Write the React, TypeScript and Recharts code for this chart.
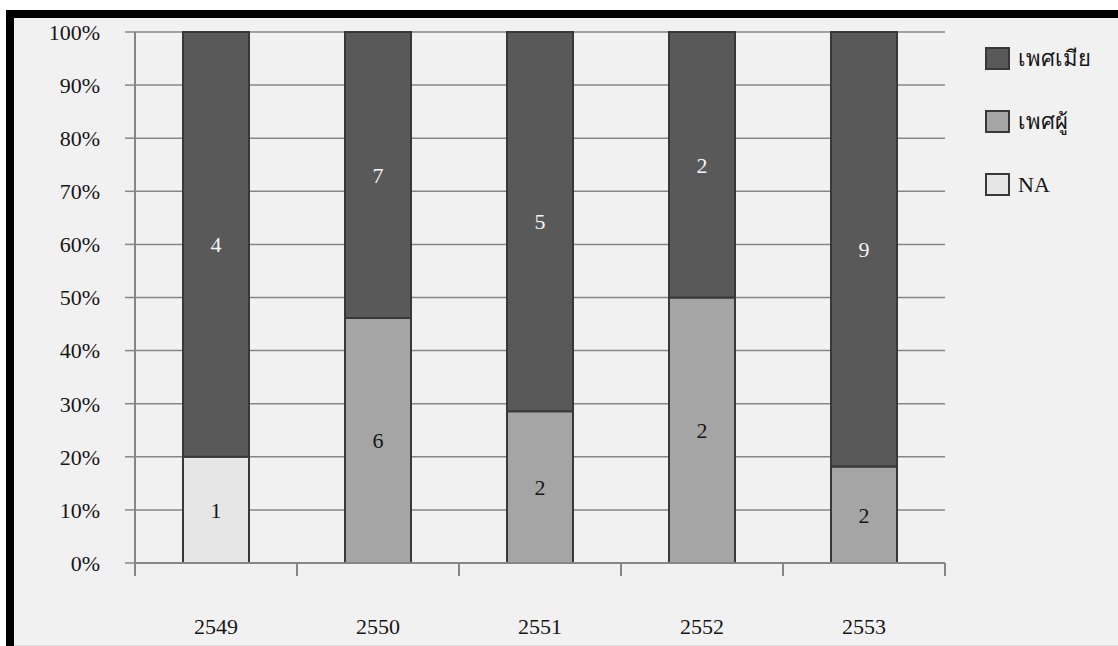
import React from "react";
import { BarChart, Bar, XAxis, YAxis, CartesianGrid, LabelList } from "recharts";

const categories = ["2549", "2550", "2551", "2552", "2553"];
const femaleCounts = [4, 7, 5, 2, 9];
const maleCounts = [0, 6, 2, 2, 2];
const naCounts = [1, 0, 0, 0, 0];
const yTicks = [0, 0.1, 0.2, 0.3, 0.4, 0.5, 0.6, 0.7, 0.8, 0.9, 1];

const seriesNames = {
  female: "เพศเมีย",
  male: "เพศผู้",
  na: "NA",
};

const W = 1118;
const H = 646;
const MARGIN = { top: 32, right: 173, bottom: 0, left: 0 };
const Y_AXIS_W = 135;
const X_AXIS_H = 83;
const BAND = (W - MARGIN.left - MARGIN.right - Y_AXIS_W) / categories.length;

const FONT = "'Liberation Serif', 'Times New Roman', serif";
const FONT_SIZE = 22;
const TEXT = "#161616";
const GRID = "#868686";
const EDGE = "#383838";
const COLORS = { female: "#595959", male: "#a5a5a5", na: "#e6e6e6" };

const data = categories.map((year, i) => ({
  year,
  female: femaleCounts[i],
  male: maleCounts[i],
  na: naCounts[i],
}));

// zero-height segments get no label
const hideZero = (v: any) => (v ? v : "");

// category label plus tick marks on the band edges
function YearTick({ x, y, payload, index }: any) {
  const half = BAND / 2;
  return (
    <g>
      <line x1={x - half} x2={x - half} y1={y} y2={y + 13} stroke={GRID} strokeWidth={2} />
      {index === categories.length - 1 && (
        <line x1={x + half} x2={x + half} y1={y} y2={y + 13} stroke={GRID} strokeWidth={2} />
      )}
      <text x={x} y={y + 71} textAnchor="middle" fill={TEXT} fontSize={FONT_SIZE} fontFamily={FONT}>
        {payload.value}
      </text>
    </g>
  );
}

const legendItems = [
  { key: "female", label: seriesNames.female, color: COLORS.female },
  { key: "male", label: seriesNames.male, color: COLORS.male },
  { key: "na", label: seriesNames.na, color: COLORS.na },
];

function SideLegend() {
  return (
    <div style={{ position: "absolute", left: 985, top: 47 }}>
      {legendItems.map((item) => (
        <div
          key={item.key}
          style={{ display: "flex", alignItems: "center", height: 23, marginBottom: 40 }}
        >
          <div
            style={{
              width: 21,
              height: 19,
              background: item.color,
              border: `2px solid ${EDGE}`,
              marginRight: 8,
            }}
          />
          <span style={{ fontFamily: FONT, fontSize: FONT_SIZE, color: TEXT, lineHeight: "23px" }}>
            {item.label}
          </span>
        </div>
      ))}
    </div>
  );
}

export default function App() {
  return (
    <div style={{ position: "absolute", left: 0, top: 0, width: W, height: H, background: "#fff" }}>
      {/* frame */}
      <div style={{ position: "absolute", left: 6, top: 10, width: W - 6, height: 8, background: "#000" }} />
      <div style={{ position: "absolute", left: 6, top: 10, width: 8, height: H - 10, background: "#000" }} />
      <div
        style={{
          position: "absolute",
          left: 14,
          top: 18,
          width: W - 14,
          height: H - 19,
          background: "#f1f1f1",
          borderBottom: "1px solid #dcdcdc",
        }}
      />
      <div style={{ position: "absolute", left: 0, top: 0 }}>
        <BarChart
          width={W}
          height={H}
          data={data}
          margin={MARGIN}
          stackOffset="expand"
          barSize={66}
        >
          <CartesianGrid vertical={false} stroke={GRID} strokeWidth={1.5} />
          <XAxis
            dataKey="year"
            height={X_AXIS_H}
            axisLine={{ stroke: GRID, strokeWidth: 2 }}
            tickLine={false}
            tickSize={0}
            tickMargin={0}
            interval={0}
            tick={<YearTick />}
          />
          <YAxis
            width={Y_AXIS_W}
            domain={[0, 1]}
            ticks={yTicks}
            interval={0}
            tickFormatter={(v: number) => `${Math.round(v * 100)}%`}
            axisLine={{ stroke: GRID, strokeWidth: 2 }}
            tickLine={{ stroke: GRID, strokeWidth: 1.5 }}
            tickSize={10}
            tickMargin={25}
            tick={{ fill: TEXT, fontSize: FONT_SIZE, fontFamily: FONT }}
          />
          <Bar dataKey="na" stackId="s" fill={COLORS.na} stroke={EDGE} strokeWidth={2} isAnimationActive={false}>
            <LabelList dataKey="na" position="center" formatter={hideZero} fill={TEXT} fontSize={FONT_SIZE} fontFamily={FONT} />
          </Bar>
          <Bar dataKey="male" stackId="s" fill={COLORS.male} stroke={EDGE} strokeWidth={2} isAnimationActive={false}>
            <LabelList dataKey="male" position="center" formatter={hideZero} fill={TEXT} fontSize={FONT_SIZE} fontFamily={FONT} />
          </Bar>
          <Bar dataKey="female" stackId="s" fill={COLORS.female} stroke={EDGE} strokeWidth={2} isAnimationActive={false}>
            <LabelList dataKey="female" position="center" formatter={hideZero} fill="#f4f4f4" fontSize={FONT_SIZE} fontFamily={FONT} />
          </Bar>
        </BarChart>
      </div>
      <SideLegend />
    </div>
  );
}
